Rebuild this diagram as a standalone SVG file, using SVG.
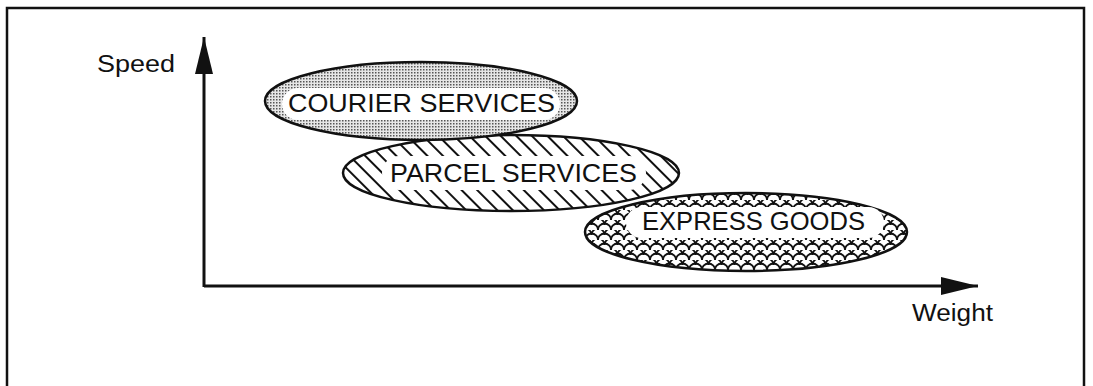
<svg xmlns="http://www.w3.org/2000/svg" width="1093" height="386" viewBox="0 0 1093 386">
<style>
.lbl{font-family:"Liberation Sans",Arial,sans-serif;font-size:26px;fill:#111;}
.ax{font-family:"Liberation Sans",Arial,sans-serif;font-size:23px;fill:#111;}
.shape{stroke:#111;stroke-width:2.5;}
.pill{fill:#fff;stroke:none;}
.axis{stroke:#111;stroke-width:3;fill:none;}
</style>
<defs>
<pattern id="stip" width="3" height="3" patternUnits="userSpaceOnUse">
<rect width="3" height="3" fill="#e6e6e6"/>
<rect width="1.5" height="1.5" fill="#555"/>
</pattern>
<pattern id="hatch" width="11" height="11" patternUnits="userSpaceOnUse" patternTransform="rotate(-45)">
<rect width="11" height="11" fill="#fff"/>
<line x1="5" y1="0" x2="5" y2="11" stroke="#111" stroke-width="2"/>
</pattern>
<pattern id="scale" width="13" height="10" patternUnits="userSpaceOnUse">
<rect width="13" height="10" fill="#fff"/>
<path d="M0,10 A6.5,6.5 0 0 1 13,10 M-6.5,5 A6.5,6.5 0 0 1 6.5,5 M6.5,5 A6.5,6.5 0 0 1 19.5,5 M0,0 A6.5,6.5 0 0 1 13,0" fill="none" stroke="#111" stroke-width="1.8"/>
</pattern>
<marker id="arr" markerUnits="userSpaceOnUse" markerWidth="40" markerHeight="20" refX="37" refY="9" orient="auto">
<path d="M0,0 L37,9 L0,18 z" fill="#111"/>
</marker>
</defs>
<rect width="1093" height="386" fill="#fff"/>
<path d="M7,390 L7,8 L1084,8 L1084,390" fill="none" stroke="#111" stroke-width="2.5"/>
<g id="connectors">
<path class="axis" d="M204,287 L204,37" marker-end="url(#arr)"/>
<path class="axis" d="M204,286 L978,286" marker-end="url(#arr)"/>
</g>
<g id="speed-label"><text class="ax" x="97" y="72" textLength="78" lengthAdjust="spacingAndGlyphs">Speed</text></g>
<g id="weight-label"><text class="ax" x="912" y="321" textLength="81" lengthAdjust="spacingAndGlyphs">Weight</text></g>
<g id="express">
<ellipse class="shape" cx="746" cy="232" rx="161" ry="39" fill="url(#scale)"/>
<rect class="pill" x="626" y="207" width="258" height="31" rx="15.5"/>
<text class="lbl" x="642" y="230" textLength="223" lengthAdjust="spacingAndGlyphs">EXPRESS GOODS</text>
</g>
<g id="parcel">
<ellipse class="shape" cx="511" cy="173" rx="168" ry="38" fill="url(#hatch)"/>
<rect class="pill" x="382" y="156" width="264" height="34" rx="17"/>
<text class="lbl" x="390" y="182" textLength="247" lengthAdjust="spacingAndGlyphs">PARCEL SERVICES</text>
</g>
<g id="courier">
<ellipse class="shape" cx="421" cy="101" rx="156" ry="39" fill="url(#stip)"/>
<rect class="pill" x="282" y="88" width="278" height="32" rx="16"/>
<text class="lbl" x="288" y="112" textLength="267" lengthAdjust="spacingAndGlyphs">COURIER SERVICES</text>
</g>
</svg>
